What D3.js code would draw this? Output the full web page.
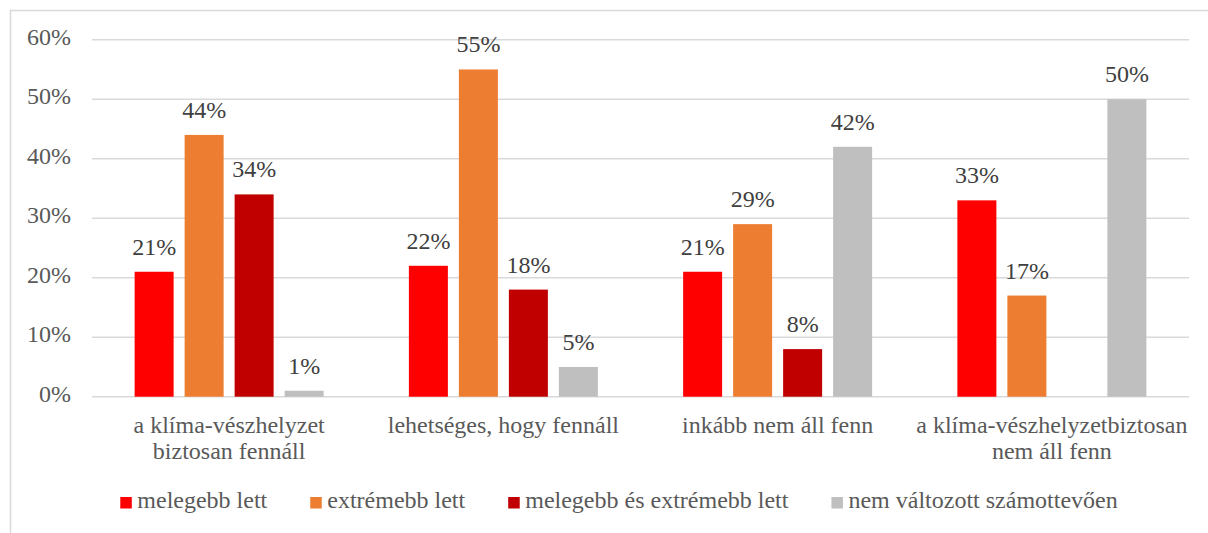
<!DOCTYPE html>
<html>
<head>
<meta charset="utf-8">
<script src="https://cdn.jsdelivr.net/npm/d3@7"></script>
<style>
  html, body { margin: 0; padding: 0; background: #fff; }
</style>
</head>
<body>
<svg id="chart"></svg>
<script>
// categories (x axis), each label split into its lines
const categories = [
  ['a klíma-vészhelyzet', 'biztosan fennáll'],
  ['lehetséges, hogy fennáll'],
  ['inkább nem áll fenn'],
  ['a klíma-vészhelyzetbiztosan', 'nem áll fenn']
]
const seriesNames = ['melegebb lett', 'extrémebb lett', 'melegebb és extrémebb lett', 'nem változott számottevően']
const seriesColors = ['#FF0000', '#ED7D31', '#C00000', '#BFBFBF']

// values per series, in %, one per category (null = no bar)
const melegebb = [21, 22, 21, 33]
const extremebb = [44, 55, 29, 17]
const mindketto = [34, 18, 8, null]
const nemValtozott = [1, 5, 42, 50]
const seriesValues = [melegebb, extremebb, mindketto, nemValtozott]

const yTicks = [0, 10, 20, 30, 40, 50, 60]

const width = 1208, height = 533
const fontSize = 24
const fontFamily = '"Liberation Serif"'
const axisColor = '#595959'
const labelColor = '#404040'
const gridColor = '#D9D9D9'

const svg = d3.select('#chart')
  .attr('width', width)
  .attr('height', height)
  .style('display', 'block')

// outer frame of the chart area
svg.append('rect')
  .attr('x', 10.5).attr('y', 10.5)
  .attr('width', width + 20).attr('height', height + 20)
  .attr('fill', 'none')
  .attr('stroke', gridColor)
  .attr('stroke-width', 1.5)

const x0 = d3.scaleBand()
  .domain(d3.range(categories.length))
  .range([92, 1189])
  .padding(0)

const x1 = d3.scaleBand()
  .domain(d3.range(seriesNames.length))
  .range([0, x0.bandwidth()])
  .paddingInner(0.22)
  .paddingOuter(0.8525)

const y = d3.scaleLinear()
  .domain([0, 60])
  .range([396.7, 39.7])

// grid
svg.append('g')
  .selectAll('line')
  .data(yTicks)
  .join('line')
  .attr('x1', 92).attr('x2', 1189)
  .attr('y1', d => y(d)).attr('y2', d => y(d))
  .attr('stroke', gridColor)
  .attr('stroke-width', 1.5)

// y tick labels
svg.append('g')
  .selectAll('text')
  .data(yTicks)
  .join('text')
  .attr('x', 71)
  .attr('y', d => y(d) + 5)
  .attr('text-anchor', 'end')
  .attr('font-size', fontSize)
  .style('font-family', fontFamily)
  .attr('fill', axisColor)
  .text(d => d + '%')

// bars
const groups = svg.append('g')
  .selectAll('g')
  .data(categories.map((c, i) => i))
  .join('g')
  .attr('transform', i => 'translate(' + x0(i) + ',0)')

const cells = groups.selectAll('g.cell')
  .data(i => seriesValues.map((vals, s) => ({ s: s, v: vals[i] })).filter(d => d.v != null))
  .join('g')
  .attr('class', 'cell')

cells.append('rect')
  .attr('x', d => x1(d.s))
  .attr('y', d => y(d.v))
  .attr('width', x1.bandwidth())
  .attr('height', d => y(0) - y(d.v))
  .attr('fill', d => seriesColors[d.s])

cells.append('text')
  .attr('x', d => x1(d.s) + x1.bandwidth() / 2)
  .attr('y', d => y(d.v) - 17)
  .attr('text-anchor', 'middle')
  .attr('font-size', fontSize)
  .style('font-family', fontFamily)
  .attr('fill', labelColor)
  .text(d => d.v + '%')

// category labels, one text per line
categories.forEach(function(lines, i){
  svg.append('g')
    .selectAll('text')
    .data(lines)
    .join('text')
    .attr('x', x0(i) + x0.bandwidth() / 2)
    .attr('y', (d, k) => 432.7 + k * 26)
    .attr('text-anchor', 'middle')
    .attr('font-size', fontSize)
    .style('font-family', fontFamily)
    .attr('fill', axisColor)
    .text(d => d)
})

// legend
const legend = svg.append('g')
const items = legend.selectAll('g')
  .data(seriesNames)
  .join('g')

items.append('rect')
  .attr('width', 11.5).attr('height', 11.5)
  .attr('y', 497)
  .attr('fill', (d, i) => seriesColors[i])

items.append('text')
  .attr('x', 17)
  .attr('y', 508)
  .attr('font-size', fontSize)
  .style('font-family', fontFamily)
  .attr('fill', axisColor)
  .text(d => d)

const gap = 43
items.each(function(){
  const w = this.querySelector('text').getComputedTextLength()
  d3.select(this).attr('data-w', 17 + w)
})
const totalW = d3.sum(items.nodes(), n => +n.getAttribute('data-w')) + gap * (seriesNames.length - 1)
let lx = 619 - totalW / 2
items.each(function(){
  d3.select(this).attr('transform', 'translate(' + lx + ',0)')
  lx += +this.getAttribute('data-w') + gap
})
</script>
</body>
</html>
